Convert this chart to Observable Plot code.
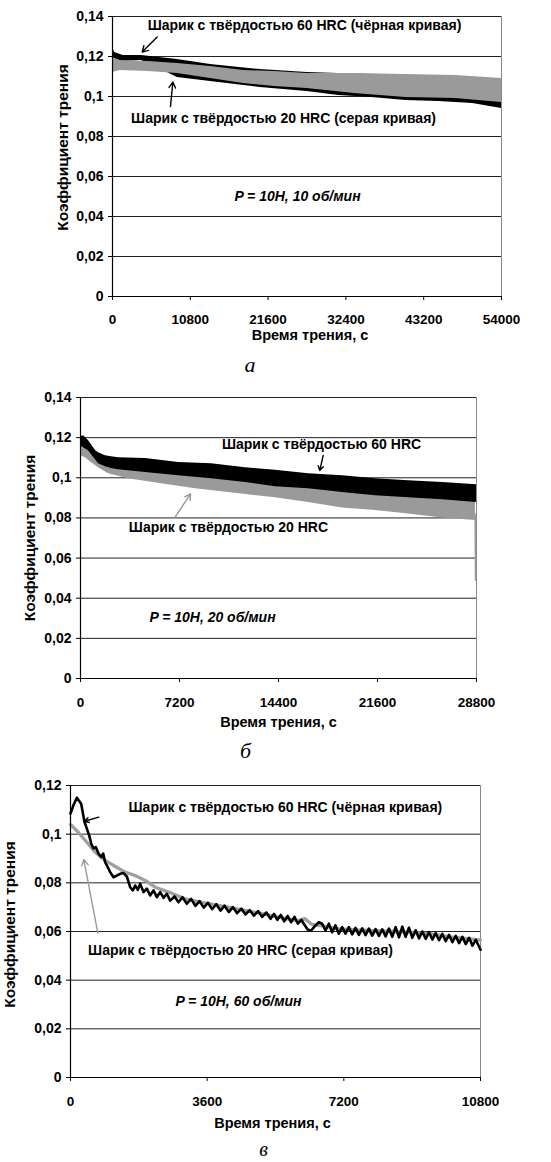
<!DOCTYPE html>
<html><head><meta charset="utf-8">
<script src="https://cdn.jsdelivr.net/npm/d3@7"></script>
<script src="https://cdn.jsdelivr.net/npm/@observablehq/plot@0.6"></script>
<style>
html,body{margin:0;padding:0;background:#fff;}
#wrap{position:relative;width:551px;height:1162px;overflow:hidden;background:#fff;}
#wrap svg{position:absolute;left:0;}
</style></head><body><div id="wrap"></div>
<script>
// ---------- Panel а: P = 10Н, 10 об/мин ----------
const aXTicks = [0, 10800, 21600, 32400, 43200, 54000];
const aYTicks = [0, 0.02, 0.04, 0.06, 0.08, 0.1, 0.12, 0.14];
// [time, lower envelope, upper envelope]
const aBlack = [[0,0.117,0.1245],[300,0.117,0.122],[1500,0.1175,0.1205],[4000,0.118,0.1205],[6500,0.114,0.1195],[9000,0.1095,0.1185],[13600,0.1075,0.116],[20500,0.1045,0.1135],[27000,0.1025,0.112],[31400,0.1005,0.1115],[36000,0.0995,0.111],[40700,0.098,0.1105],[45250,0.0975,0.11],[50000,0.0965,0.109],[54000,0.094,0.108]];
const aGray = [[0,0.112,0.1195],[1100,0.113,0.118],[5000,0.1125,0.1175],[9000,0.1115,0.1165],[13600,0.109,0.115],[18200,0.1065,0.113],[22500,0.105,0.1125],[27000,0.104,0.1115],[33600,0.1015,0.1115],[40700,0.0995,0.111],[47600,0.099,0.1105],[54000,0.097,0.109]];
const aLabels = [
  {x: 26650, y: 0.1355, t: "Шарик с твёрдостью 60 HRC (чёрная кривая)"},
  {x: 23740, y: 0.089, t: "Шарик с твёрдостью 20 HRC (серая кривая)"}
];
const aNote = [{x: 25680, y: 0.05, t: "P = 10Н, 10 об/мин"}];
const aArrows = [
  {x1: 6200, y1: 0.1297, x2: 4120, y2: 0.1222, c: "#000"},
  {x1: 8050, y1: 0.095, x2: 8375, y2: 0.1072, c: "#000"}
];

// ---------- Panel б: P = 10Н, 20 об/мин ----------
const bXTicks = [0, 7200, 14400, 21600, 28800];
const bYTicks = [0, 0.02, 0.04, 0.06, 0.08, 0.1, 0.12, 0.14];
const bBlack = [[0,0.116,0.1205],[220,0.115,0.121],[580,0.1135,0.1186],[1090,0.109,0.1136],[1310,0.107,0.1125],[1820,0.1055,0.111],[2250,0.1046,0.1105],[2760,0.104,0.110],[4730,0.1026,0.1096],[7130,0.101,0.1076],[9530,0.0995,0.107],[12000,0.0977,0.105],[14180,0.0955,0.1038],[16580,0.0945,0.102],[19050,0.0927,0.101],[21450,0.091,0.0995],[23850,0.090,0.0985],[26330,0.089,0.0977],[28800,0.0877,0.0965]];
const bGray = [[0,0.111,0.116],[360,0.110,0.115],[800,0.1075,0.113],[1310,0.105,0.109],[2040,0.102,0.106],[3490,0.0995,0.104],[5890,0.097,0.1025],[8360,0.0945,0.101],[10760,0.0927,0.0995],[14180,0.090,0.097],[16580,0.0877,0.0955],[19050,0.085,0.094],[21450,0.0837,0.092],[23850,0.082,0.091],[26330,0.080,0.090],[28720,0.0787,0.089]];
const bGrayTail = [[28700,0.082],[28730,0.049]];
const bLabels = [
  {x: 17530, y: 0.1166, t: "Шарик с твёрдостью 60 HRC"},
  {x: 10760, y: 0.0752, t: "Шарик с твёрдостью 20 HRC"}
];
const bNote = [{x: 9600, y: 0.0304, t: "P = 10Н, 20 об/мин"}];
const bArrows = [
  {x1: 17650, y1: 0.1111, x2: 17400, y2: 0.1036, c: "#000"},
  {x1: 6910, y1: 0.0807, x2: 8000, y2: 0.092, c: "#999"}
];

// ---------- Panel в: P = 10Н, 60 об/мин ----------
const cXTicks = [0, 3600, 7200, 10800];
const cYTicks = [0, 0.02, 0.04, 0.06, 0.08, 0.1, 0.12];
const cGray = [[0,0.104],[210,0.1007],[390,0.0974],[650,0.0926],[910,0.0892],[1180,0.0867],[1440,0.0844],[1700,0.083],[1970,0.081],[2230,0.0782],[2580,0.0762],[3020,0.0734],[3460,0.072],[3900,0.0707],[4340,0.0694],[4870,0.0679],[5300,0.0665],[5700,0.0652],[6000,0.0645],[6170,0.0653],[6350,0.063],[6500,0.0625],[6700,0.0622],[7000,0.0612],[7500,0.0607],[8000,0.0603],[8500,0.06],[9000,0.0596],[9500,0.059],[10000,0.0578],[10500,0.057],[10800,0.0565]];
const cBlack = [[0,0.1085],[80,0.112],[167,0.115],[281,0.1125],[369,0.105],[430,0.1023],[492,0.0995],[545,0.0962],[606,0.0941],[667,0.0947],[738,0.092],[808,0.0906],[861,0.092],[913,0.0885],[983,0.0864],[1045,0.0844],[1133,0.0823],[1220,0.083],[1308,0.0837],[1396,0.084],[1484,0.0826],[1572,0.0782],[1642,0.0769],[1703,0.0789],[1774,0.0771],[1835,0.0796],[1923,0.0762],[2011,0.0776],[2098,0.0748],[2186,0.0769],[2274,0.0741],[2362,0.0762],[2450,0.0738],[2537,0.0755],[2625,0.0727],[2740,0.0744],[2845,0.072],[2950,0.0741],[3064,0.0714],[3178,0.0734],[3290,0.0705],[3400,0.0725],[3510,0.0698],[3620,0.0718],[3730,0.0692],[3840,0.0712],[3950,0.0686],[4060,0.0706],[4170,0.068],[4280,0.07],[4390,0.0675],[4500,0.0694],[4610,0.067],[4720,0.0688],[4830,0.0665],[4940,0.0684],[5050,0.066],[5160,0.0678],[5270,0.0652],[5360,0.0672],[5450,0.0648],[5540,0.0668],[5630,0.0642],[5720,0.0664],[5810,0.0638],[5900,0.066],[5990,0.0632],[6080,0.0648],[6145,0.0632],[6252,0.0607],[6340,0.0604],[6453,0.0625],[6541,0.0638],[6629,0.0632],[6717,0.0604],[6805,0.0632],[6893,0.0597],[6980,0.0625],[7068,0.0591],[7156,0.0618],[7244,0.0591],[7332,0.0618],[7420,0.0588],[7508,0.0615],[7596,0.0586],[7684,0.0613],[7772,0.0585],[7860,0.0612],[7948,0.0583],[8036,0.061],[8124,0.0582],[8212,0.0609],[8300,0.058],[8388,0.0612],[8476,0.0578],[8564,0.0618],[8652,0.0576],[8740,0.062],[8828,0.0578],[8916,0.0616],[9004,0.0574],[9092,0.0605],[9180,0.0572],[9268,0.06],[9356,0.057],[9444,0.0597],[9532,0.0567],[9620,0.0593],[9708,0.0564],[9796,0.059],[9884,0.056],[9972,0.0586],[10060,0.0556],[10148,0.0582],[10236,0.0552],[10324,0.0578],[10412,0.0548],[10500,0.0574],[10588,0.0542],[10676,0.0566],[10800,0.0525]];
const cLabels = [
  {x: 5660, y: 0.111, t: "Шарик с твёрдостью 60 HRC (чёрная кривая)"},
  {x: 4480, y: 0.0522, t: "Шарик с твёрдостью 20 HRC (серая кривая)"}
];
const cNote = [{x: 4425, y: 0.0312, t: "P = 10Н, 60 об/мин"}];
const cArrows = [
  {x1: 746, y1: 0.107, x2: 369, y2: 0.1053, c: "#000"},
  {x1: 720, y1: 0.0593, x2: 351, y2: 0.0895, c: "#999"}
];

const yLabel = "Коэффициент трения";
const xLabel = "Время трения, с";
const captions = ["а", "б", "в"];

const SANS = "Liberation Sans, Arial, Helvetica, sans-serif";
const fmtY = d => String(+d.toFixed(2)).replace(".", ",");

function panel(o) {
  const xMax = o.xTicks[o.xTicks.length - 1];
  const yMax = o.yTicks[o.yTicks.length - 1];
  const svg = Plot.plot({
    width: 551, height: o.height,
    marginTop: o.mt, marginBottom: o.mb, marginLeft: o.ml, marginRight: o.mr,
    style: {fontFamily: SANS, fontSize: "13.5px", fontWeight: "bold", color: "#000", background: "transparent", overflow: "visible"},
    x: {domain: [0, xMax]},
    y: {domain: [0, yMax]},
    marks: [
      Plot.gridY(o.yTicks, {stroke: "#222", strokeOpacity: 1, strokeWidth: 1}),
      Plot.ruleX([xMax], {stroke: "#888", strokeWidth: 1}),
      ...o.marks,
      Plot.ruleY([0], {stroke: "#000", strokeWidth: 1.2}),
      Plot.ruleX([0], {stroke: "#000", strokeWidth: 1.2}),
      Plot.axisX(o.xTicks, {tickSize: 4, tickPadding: o.xPad, tickFormat: d => String(d), label: null, fontSize: 13.5, fontWeight: "bold"}),
      Plot.axisY(o.yTicks, {tickSize: 4, tickPadding: 5, tickFormat: fmtY, label: null, fontSize: 14, fontWeight: "bold"}),
      Plot.text(o.labels, {x: "x", y: "y", text: "t", fontSize: 14, fontWeight: "bold", fill: "#000"}),
      Plot.text(o.note, {x: "x", y: "y", text: "t", fontSize: 14, fontWeight: "bold", fontStyle: "italic", fill: "#000"}),
      Plot.arrow(o.arrows, {x1: "x1", y1: "y1", x2: "x2", y2: "y2", stroke: "c", strokeWidth: 1.4, headLength: 7}),
      Plot.text([yLabel], {text: d => d, frameAnchor: "left", textAnchor: "middle", lineAnchor: "middle", rotate: -90, dx: o.ylDx, dy: o.ylDy, fontSize: 15.5, fontWeight: "bold", fill: "#000"}),
      Plot.text([xLabel], {text: d => d, frameAnchor: "bottom", textAnchor: "middle", lineAnchor: "middle", dy: o.xlDy, dx: o.xlDx, fontSize: 14.5, fontWeight: "bold", fill: "#000"}),
      Plot.text([o.caption], {text: d => d, frameAnchor: "bottom", textAnchor: "middle", lineAnchor: "middle", dy: o.capDy, dx: o.capDx, fontSize: o.capSize, fontFamily: "Liberation Serif, Times New Roman, serif", fontStyle: "italic", fontWeight: "normal", fill: "#000"})
    ]
  });
  svg.style.top = o.top + "px";
  document.getElementById("wrap").appendChild(svg);
}

const band = (rows, fill) => Plot.areaY(rows, {x: d => d[0], y1: d => d[1], y2: d => d[2], fill, curve: "linear"});
const line = (rows, stroke, w) => Plot.line(rows, {x: d => d[0], y: d => d[1], stroke, strokeWidth: w, strokeLinejoin: "round"});

panel({
  top: 0, height: 380, mt: 16, mb: 84, ml: 112, mr: 50, xPad: 14,
  xTicks: aXTicks, yTicks: aYTicks,
  marks: [band(aBlack, "#000"), band(aGray, "#9a9a9a")],
  labels: aLabels, note: aNote, arrows: aArrows,
  ylDx: -49, ylDy: -9, xlDy: 39, xlDx: 3, capDy: 68, capDx: -57, capSize: 22, caption: captions[0]
});
panel({
  top: 380, height: 390, mt: 17, mb: 92, ml: 80, mr: 75, xPad: 15,
  xTicks: bXTicks, yTicks: bYTicks,
  marks: [band(bGray, "#9a9a9a"), line(bGrayTail, "#9a9a9a", 1.5), band(bBlack, "#000")],
  labels: bLabels, note: bNote, arrows: bArrows,
  ylDx: -50, ylDy: 0, xlDy: 44, xlDx: 0, capDy: 72, capDx: -33, capSize: 22, caption: captions[1]
});
panel({
  top: 770, height: 392, mt: 15, mb: 85, ml: 70, mr: 71, xPad: 15,
  xTicks: cXTicks, yTicks: cYTicks,
  marks: [line(cGray, "#a0a0a0", 3.3), line(cBlack, "#000", 2.6)],
  labels: cLabels, note: cNote, arrows: cArrows,
  ylDx: -60, ylDy: -7, xlDy: 46, xlDx: -3, capDy: 72, capDx: -12, capSize: 20, caption: captions[2]
});
</script></body></html>
